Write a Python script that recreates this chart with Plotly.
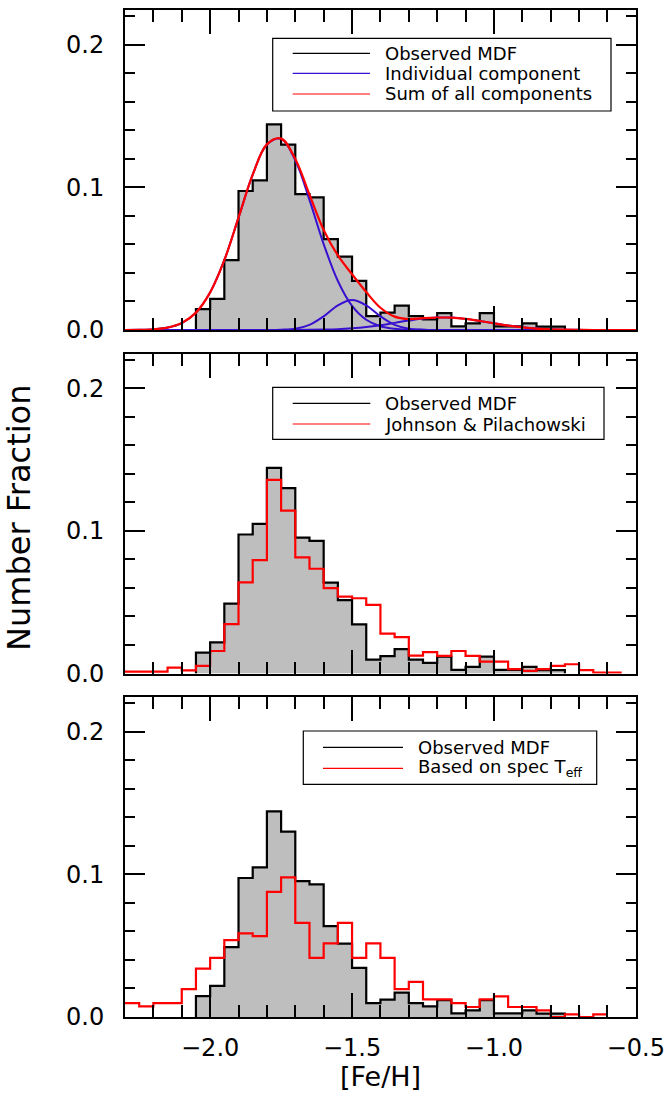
import plotly.graph_objects as go

# ---------------- data ----------------
bin_width = 0.05

# Observed MDF (bin left edges, number fraction)
obs_left = [-2.05, -2.00, -1.95, -1.90, -1.85, -1.80, -1.75, -1.70, -1.65, -1.60,
            -1.55, -1.50, -1.45, -1.40, -1.35, -1.30, -1.25, -1.20, -1.15, -1.10,
            -1.05, -1.00, -0.95, -0.90, -0.85, -0.80]
obs_frac = [0.0147, 0.0218, 0.0490, 0.0975, 0.1050, 0.1443, 0.1300, 0.0953, 0.0931, 0.0637,
            0.0515, 0.0344, 0.0098, 0.0122, 0.0171, 0.0098, 0.0075, 0.0118, 0.0026, 0.0047,
            0.0118, 0.0026, 0.0026, 0.0047, 0.0024, 0.0024]

# Johnson & Pilachowski
jp_left = [-2.30, -2.25, -2.20, -2.15, -2.10, -2.05, -2.00, -1.95, -1.90, -1.85,
           -1.80, -1.75, -1.70, -1.65, -1.60, -1.55, -1.50, -1.45, -1.40, -1.35,
           -1.30, -1.25, -1.20, -1.15, -1.10, -1.05, -1.00, -0.95, -0.90, -0.85,
           -0.80, -0.75, -0.70, -0.65, -0.60]
jp_frac = [0.0013, 0.0013, 0.0013, 0.0041, 0.0022, 0.0053, 0.0158, 0.0346, 0.0639, 0.0796,
           0.1359, 0.1143, 0.0814, 0.0735, 0.0599, 0.0539, 0.0528, 0.0482, 0.0280, 0.0255,
           0.0125, 0.0150, 0.0123, 0.0158, 0.0123, 0.0083, 0.0083, 0.0030, 0.0018, 0.0030,
           0.0053, 0.0065, 0.0023, 0.0006, 0.0006]

# Based on spectroscopic Teff
spec_left = [-2.30, -2.25, -2.20, -2.15, -2.10, -2.05, -2.00, -1.95, -1.90, -1.85,
             -1.80, -1.75, -1.70, -1.65, -1.60, -1.55, -1.50, -1.45, -1.40, -1.35,
             -1.30, -1.25, -1.20, -1.15, -1.10, -1.05, -1.00, -0.95, -0.90, -0.85,
             -0.80, -0.75, -0.70, -0.65]
spec_frac = [0.0098, 0.0075, 0.0098, 0.0098, 0.0195, 0.0340, 0.0415, 0.0539, 0.0586, 0.0567,
             0.0878, 0.0980, 0.0661, 0.0415, 0.0516, 0.0661, 0.0415, 0.0516, 0.0415, 0.0195,
             0.0246, 0.0123, 0.0123, 0.0098, 0.0070, 0.0124, 0.0145, 0.0070, 0.0070, 0.0047,
             0.0000, 0.0019, 0.0000, 0.0019]

# Fitted components
curve_feh = [-2.30, -2.25, -2.20, -2.15, -2.10, -2.05, -2.00, -1.95, -1.90, -1.85,
             -1.80, -1.75, -1.70, -1.65, -1.60, -1.55, -1.50, -1.45, -1.40, -1.35,
             -1.30, -1.25, -1.20, -1.15, -1.10, -1.05, -1.00, -0.95, -0.90, -0.85,
             -0.80, -0.75, -0.70, -0.65, -0.60, -0.55, -0.50]
comp1 = [0.0000, 0.0001, 0.0005, 0.0017, 0.0049, 0.0122, 0.0264, 0.0490, 0.0788, 0.1090,
         0.1302, 0.1341, 0.1191, 0.0913, 0.0603, 0.0344, 0.0169, 0.0072, 0.0026, 0.0008,
         0.0002, 0.0001, 0.0, 0.0, 0.0, 0.0, 0.0, 0.0, 0.0, 0.0,
         0.0, 0.0, 0.0, 0.0, 0.0, 0.0, 0.0]
comp2 = [0.0, 0.0, 0.0, 0.0, 0.0, 0.0, 0.0, 0.0, 0.0, 0.0,
         0.0000, 0.0002, 0.0009, 0.0036, 0.0096, 0.0173, 0.0210, 0.0173, 0.0096, 0.0036,
         0.0009, 0.0002, 0.0, 0.0, 0.0, 0.0, 0.0, 0.0, 0.0, 0.0,
         0.0, 0.0, 0.0, 0.0, 0.0, 0.0, 0.0]
comp3 = [0.0, 0.0, 0.0, 0.0, 0.0, 0.0, 0.0, 0.0, 0.0, 0.0,
         0.0, 0.0, 0.0000, 0.0001, 0.0003, 0.0006, 0.0012, 0.0021, 0.0034, 0.0050,
         0.0066, 0.0080, 0.0087, 0.0087, 0.0078, 0.0063, 0.0047, 0.0031, 0.0019, 0.0010,
         0.0005, 0.0002, 0.0001, 0.0, 0.0, 0.0, 0.0]
comp_sum = [0.0000, 0.0001, 0.0005, 0.0017, 0.0049, 0.0122, 0.0264, 0.0490, 0.0788, 0.1090,
            0.1302, 0.1343, 0.1200, 0.0950, 0.0702, 0.0523, 0.0391, 0.0266, 0.0156, 0.0094,
            0.0077, 0.0083, 0.0087, 0.0087, 0.0078, 0.0063, 0.0047, 0.0031, 0.0019, 0.0010,
            0.0005, 0.0002, 0.0001, 0.0, 0.0, 0.0, 0.0]

x_ticks = [-2.0, -1.5, -1.0, -0.5]
x_ticktext = ["\u22122.0", "\u22121.5", "\u22121.0", "\u22120.5"]
y_ticks = [0.0, 0.1, 0.2]
y_ticktext = ["0.0", "0.1", "0.2"]

legend1 = ["Observed MDF", "Individual component", "Sum of all components"]
legend2 = ["Observed MDF", "Johnson &amp; Pilachowski"]
legend3 = ["Observed MDF", "Based on spec T<sub>eff</sub>"]

# ---------------- style ----------------
FONT = "DejaVu Sans"
BLACK = "#000000"
RED = "#ff0000"
BLUE = "#3a10d0"
GRAY = "#bebebe"
W, H = 665, 1095
ML, MR, MT, MB = 125, 29, 10, 78
PW, PH = W - ML - MR, H - MT - MB


def step_xy(left, vals, close):
    xs = list(left) + [left[-1] + bin_width]
    ys = list(vals) + [vals[-1]]
    if close:
        xs = [left[0]] + xs + [xs[-1]]
        ys = [0.0] + ys + [0.0]
    return xs, ys


fig = go.Figure()

panels = [("x", "y"), ("x2", "y2"), ("x3", "y3")]

# observed histogram in each panel
for xa, ya in panels:
    xs, ys = step_xy(obs_left, obs_frac, True)
    fig.add_trace(go.Scatter(x=xs, y=ys, mode="lines", line=dict(shape="hv", color=BLACK, width=2.2),
                             fill="tozeroy", fillcolor=GRAY, xaxis=xa, yaxis=ya, showlegend=False,
                             hoverinfo="skip"))

# panel 1 components
for comp in (comp1, comp2, comp3):
    fig.add_trace(go.Scatter(x=curve_feh, y=comp, mode="lines",
                             line=dict(shape="spline", color=BLUE, width=2),
                             xaxis="x", yaxis="y", showlegend=False, hoverinfo="skip"))
fig.add_trace(go.Scatter(x=curve_feh, y=comp_sum, mode="lines",
                         line=dict(shape="spline", color=RED, width=2.2),
                         xaxis="x", yaxis="y", showlegend=False, hoverinfo="skip"))

# panel 2
xs, ys = step_xy(jp_left, jp_frac, False)
fig.add_trace(go.Scatter(x=xs, y=ys, mode="lines", line=dict(shape="hv", color=RED, width=2.2),
                         xaxis="x2", yaxis="y2", showlegend=False, hoverinfo="skip"))
# panel 3
xs, ys = step_xy(spec_left, spec_frac, False)
fig.add_trace(go.Scatter(x=xs, y=ys, mode="lines", line=dict(shape="hv", color=RED, width=2.2),
                         xaxis="x3", yaxis="y3", showlegend=False, hoverinfo="skip"))

# ---------------- axes ----------------
gap = 23.5
ph = (PH - 2 * gap) / 3.0
doms = []
for i in range(3):
    top = PH - i * (ph + gap)
    doms.append([(top - ph) / PH, top / PH])

for i in range(3):
    sfx = "" if i == 0 else str(i + 1)
    anchor_y = "y" + sfx
    anchor_x = "x" + sfx
    fig.update_layout(**{
        "xaxis" + sfx: dict(
            domain=[0, 1], anchor=anchor_y, range=[-2.3, -0.4995], automargin=False,
            tickmode="array", tickvals=x_ticks, ticktext=x_ticktext,
            ticks="inside", ticklen=24, tickwidth=2, tickcolor=BLACK,
            minor=dict(dtick=0.1, tick0=-2.0, ticks="inside", ticklen=12, tickwidth=2,
                       tickcolor=BLACK, showgrid=False),
            showline=True, linewidth=2, linecolor=BLACK, mirror="allticks",
            showgrid=False, zeroline=False, showticklabels=(i == 2),
            ticklabeloverflow="allow",
            tickfont=dict(family=FONT, size=24, color=BLACK), ticklabelstandoff=8,
            layer="above traces"),
        "yaxis" + sfx: dict(
            domain=doms[i], anchor=anchor_x, range=[0, 0.2245], automargin=False,
            tickmode="array", tickvals=y_ticks, ticktext=y_ticktext,
            ticks="inside", ticklen=20, tickwidth=2, tickcolor=BLACK,
            minor=dict(dtick=0.02, tick0=0, ticks="inside", ticklen=10, tickwidth=2,
                       tickcolor=BLACK, showgrid=False),
            showline=True, linewidth=2, linecolor=BLACK, mirror="allticks",
            showgrid=False, zeroline=False, ticklabeloverflow="allow",
            tickfont=dict(family=FONT, size=24, color=BLACK), ticklabelstandoff=14,
            layer="above traces"),
    })


def px(x):
    return (x - ML) / PW


def py(y):
    return (H - MB - y) / PH


shapes = []
annotations = []


def add_legend(box, rows, line_x, text_x, entries, colors):
    x0, y0, x1, y1 = box
    shapes.append(dict(type="rect", xref="paper", yref="paper", x0=px(x0), x1=px(x1),
                       y0=py(y1), y1=py(y0), line=dict(color=BLACK, width=1.2),
                       fillcolor="white", layer="above"))
    for r, txt, col in zip(rows, entries, colors):
        shapes.append(dict(type="line", xref="paper", yref="paper", x0=px(line_x[0]),
                           x1=px(line_x[1]), y0=py(r), y1=py(r),
                           line=dict(color=col, width=1.2), layer="above"))
        annotations.append(dict(text=txt, xref="paper", yref="paper", x=px(text_x), y=py(r),
                                xanchor="left", yanchor="middle", showarrow=False,
                                font=dict(family=FONT, size=18, color=BLACK)))


add_legend((272.7, 38.3, 611, 111), [53.3, 73.3, 94], (292.7, 370), 383,
           legend1, [BLACK, BLUE, RED])
add_legend((272.7, 387.3, 604, 439.3), [403.3, 424], (292.7, 370.3), 383,
           legend2, [BLACK, RED])
add_legend((303.3, 731, 596.7, 784.3), [747.3, 768.3], (323, 403), 416,
           legend3, [BLACK, RED])

annotations.append(dict(text="Number Fraction", xref="paper", yref="paper",
                        x=px(19), y=py(518), xanchor="center", yanchor="middle",
                        textangle=-90, showarrow=False,
                        font=dict(family=FONT, size=32, color=BLACK)))
annotations.append(dict(text="[Fe/H]", xref="paper", yref="paper",
                        x=px(380.5), y=py(1076), xanchor="center", yanchor="middle",
                        showarrow=False, font=dict(family=FONT, size=27, color=BLACK)))

fig.update_layout(width=W, height=H, margin=dict(l=ML, r=MR, t=MT, b=MB, pad=0,
                                                 autoexpand=False),
                  paper_bgcolor="white", plot_bgcolor="white", showlegend=False,
                  shapes=shapes, annotations=annotations)

fig.write_html("out.html")
